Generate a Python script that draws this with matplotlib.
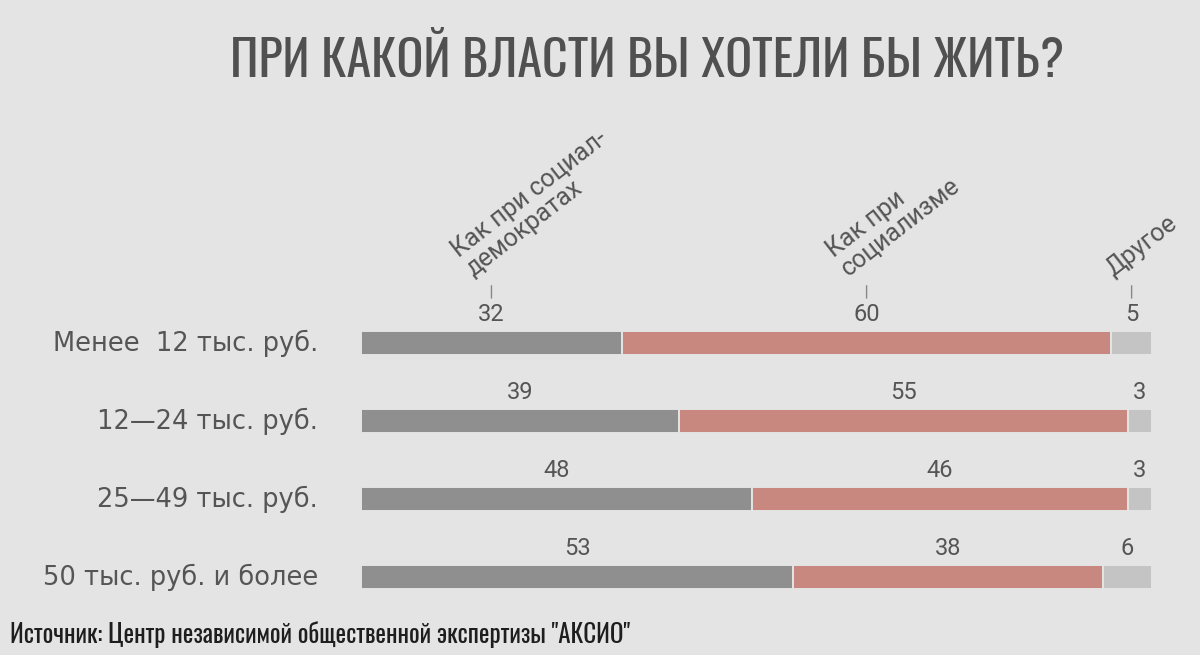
import numpy as np
import matplotlib
matplotlib.use("Agg")
import matplotlib.pyplot as plt

# --- данные ---
groups = ["Менее  12 тыс. руб.", "12—24 тыс. руб.", "25—49 тыс. руб.", "50 тыс. руб. и более"]
series_names = ["Как при социал-\nдемократах", "Как при\nсоциализме", "Другое"]
social_dem = [32, 39, 48, 53]
socialism = [60, 55, 46, 38]
other = [5, 3, 3, 6]

BG = "#e4e4e4"
COLORS = ["#8f8f8f", "#c8877f", "#c4c4c4"]
TXT = "#555555"
NARROW = ["Oswald", "DejaVu Sans"]
NUMF = ["Roboto", "DejaVu Sans"]

fig = plt.figure(figsize=(12, 6.55), dpi=100, facecolor=BG)
# область столбцов: x 361..1152 px, строки с шагом 78 px
ax = fig.add_axes([361 / 1200, (655 - 616) / 655, 791 / 1200, 312 / 655])
ax.set_facecolor(BG)

vals = np.array([social_dem, socialism, other], dtype=float)
total = vals.sum(axis=0).max()
y = np.arange(len(groups))
h = 0.295

left = np.zeros(len(groups))
for k, (v, c) in enumerate(zip(vals, COLORS)):
    ax.barh(y, v, left=left, height=h, color=c, edgecolor=BG, lw=1.4, zorder=2)
    for i in range(len(groups)):
        cx = left[i] + v[i] / 2
        ax.annotate(f"{int(v[i])}", (cx, y[i] - h / 2), xytext=(0, 5),
                    textcoords="offset pixels", ha="center", va="bottom",
                    fontsize=17, color=TXT, family=NUMF)
    # заголовок столбца над первой строкой
    cx0 = left[0] + v[0] / 2
    ax.annotate("", (cx0, -0.54), xytext=(cx0, -0.77),
                arrowprops=dict(arrowstyle="-", color="#888888", lw=1.0),
                annotation_clip=False)
    ax.annotate(series_names[k], (cx0, -0.77), xytext=(-15, 2),
                textcoords="offset pixels", rotation=38, rotation_mode="anchor",
                ha="left", va="bottom", fontsize=18, color=TXT,
                family=["Roboto", "DejaVu Sans"], linespacing=1.0,
                annotation_clip=False)
    left += v

for i, g in enumerate(groups):
    ax.text(-43 / 791 * total, y[i], g, ha="right", va="center",
            fontsize=18.5, color=TXT, family="DejaVu Sans")

ax.set_xlim(0, total)
ax.set_ylim(len(groups) - 0.5, -0.5)
ax.axis("off")

fig.text(647 / 1200, 1 - 61 / 655, "ПРИ КАКОЙ ВЛАСТИ ВЫ ХОТЕЛИ БЫ ЖИТЬ?",
         ha="center", va="center", fontsize=36, fontweight="bold",
         color="#505050", family=NARROW)
fig.text(10 / 1200, 1 - 634 / 655,
         'Источник: Центр независимой общественной экспертизы "АКСИО"',
         ha="left", va="center", fontsize=18, fontweight="bold",
         color="#1e1e1e", family=NARROW)

fig.savefig("out.png", dpi=100, facecolor=BG)
